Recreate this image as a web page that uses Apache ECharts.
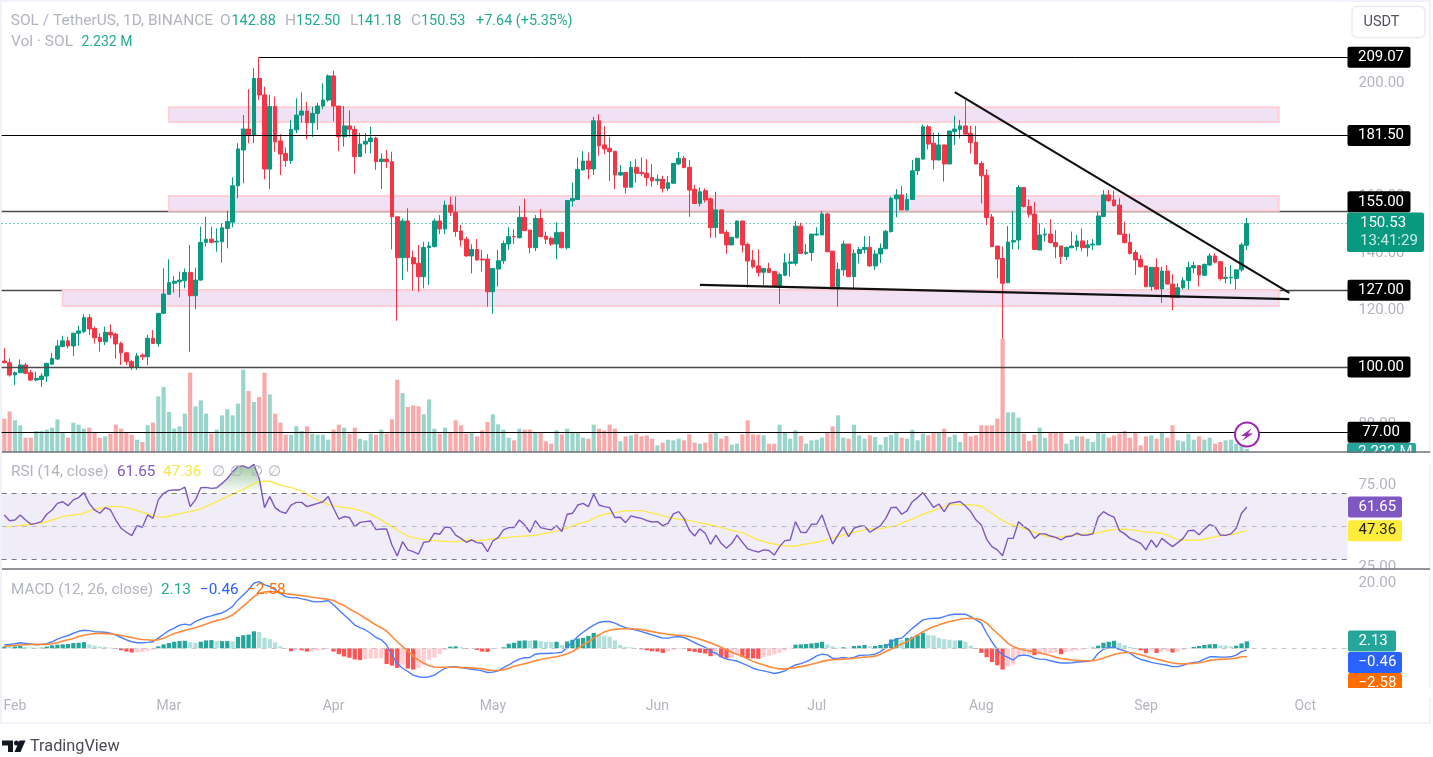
<!DOCTYPE html>
<html><head><meta charset="utf-8">
<script src="https://cdn.jsdelivr.net/npm/echarts@6/dist/echarts.min.js"></script>
<style>html,body{margin:0;padding:0;background:#fff;overflow:hidden}
#frame{position:absolute;left:0;top:0;width:1427px;height:720px;border:2px solid #f0f3fa}
#c{position:absolute;left:0;top:0;width:1433px;height:757px}</style></head>
<body><div id="frame"></div><div id="c"></div>
<script>
// candles, one per day from 30 Jan: open, close, low, high
const candles=[
[102.1,101.5,101.5,106.6],[101.5,97.2,96.6,103],[97.2,98,93.7,98.4],[98,100.7,97.8,102.7],[100.7,97.8,97.4,101.5],[98,95.4,95,99],[95.4,96,95,98.4],[95.6,96.8,93,97.8],[96.8,101.3,94.8,101.5],[101,103,100.7,105],
[102.8,107.4,102.5,109.5],[107.2,109.2,107,111],[109.2,107.4,106.6,110.7],[107.4,111.9,103.9,112],[111.9,112.7,107.5,114.5],[112.5,117.4,111.9,118.6],[117.4,113.4,111.3,118.6],[113.6,110.3,108.3,114.2],[110.4,108.9,105.4,111.9],[108.9,112.2,107.7,114.2],
[112.2,111.3,110.1,115],[111.6,108.1,103,112.1],[108.3,105,100.7,108.9],[105,101.9,100.7,105.4],[101.9,99.9,99,102.5],[99.9,103.9,99,105],[104.2,103.6,102.5,104.8],[103.6,110.1,100.7,111.3],[110.1,108.3,108.1,113],[108.3,118.9,107.2,118.9],
[118.9,125.7,118.7,134.7],[125.6,129.7,125.4,137.9],[129.5,130.2,126.2,132],[130,130.6,124.5,133.6],[130.4,133.3,127.7,134.7],[133.3,125.1,105.4,143],[125.1,130.6,120.3,135],[130.6,143.9,130.4,149.4],[143.9,145,142.4,152.9],[145,143.9,143.5,149.4],
[144,144.3,140.6,148.8],[144.1,149,136.7,150.6],[148.8,151.2,141.8,155],[151,163.8,149.2,166.8],[163.8,176.8,159.4,178.8],[176.4,183.8,164.7,188.7],[183.8,181.7,178.8,197.8],[181.7,201.6,178.8,205.2],[201.6,195.8,194,209.07],[195.8,169.7,166.1,198.7],
[169.7,191.7,162.6,195.8],[191.7,179.3,175.8,195.2],[179.6,175,167.6,182],[175.2,172.7,170.5,177.3],[172.7,183.7,171.5,187],[183.5,188.7,182.3,194.6],[188.7,190.1,186,196.7],[190.1,186,180.2,193.4],[186,189.3,181,191.7],[189.3,191.9,183.5,193],
[191.9,194,190.7,199.9],[194,202.5,193.4,203],[202.5,191.9,186.6,204.3],[191.9,181.1,176,191.9],[181.1,184.9,177.6,191.9],[184.9,183.7,181.1,190.3],[183.7,174.1,168,184.9],[174.1,178.5,173.9,182.5],[178.5,179.5,175.2,182.3],[179.4,180.6,175.2,184.6],
[180.6,172.3,169.4,181.1],[172.3,173.2,162.7,175.2],[173.2,172.3,170,176.4],[172.3,152.9,141.4,175.8],[152.9,138.5,116.3,152.9],[138.5,151.4,130.6,152.3],[151.4,138.5,133.6,155.9],[138.5,136.3,126.9,141],[136.5,131.8,126.5,143],[131.8,142.1,127.7,144.1],
[142.1,142.6,128.9,144.1],[142.4,151.4,142.1,152.3],[151.4,148.6,146.8,153.5],[148.6,157,146.8,158.6],[157,154.5,153.2,160],[154.5,147.7,145.9,160],[147.9,144.7,142.4,150],[145,139.1,138.9,145.9],[139.1,141.4,133,143.2],[141.4,137.7,137.4,145],
[138,137.7,133.6,141.2],[138,126.5,121.2,139.8],[126.5,134.7,118.7,134.7],[134.5,137.4,128.3,141.2],[137.4,143.5,136.3,144.5],[143.3,145.9,141.2,149.2],[145.9,145.8,143.3,148.5],[145.5,152.7,145.3,156.7],[152.7,148,148,159.3],[148.2,142,140,148.2],
[142,152.3,140.8,153.5],[152.3,145.9,145.7,155.6],[146.1,145,143.3,147.7],[145.3,143.3,142.6,145.9],[143.3,147.4,137.9,150.9],[147.4,142,141.8,147.7],[142,158.6,141.4,158.8],[158.5,159.3,156.5,165],[159,169.6,158.8,173.8],[169.4,172.5,169.1,176],
[172.5,169.7,166.1,175.5],[169.7,186.7,167.6,188.1],[186.7,177.9,174.4,189],[178.2,176.8,175,184.9],[177,175.8,165.5,181.1],[176,167.6,162.6,176],[167.6,168.5,167.3,171.1],[168.5,163.3,161.1,168.5],[163.3,170.3,163.3,172.5],[170.3,168.2,164.9,173.2],
[168.5,168.1,167.3,173.8],[168.2,166.7,163.7,173.2],[166.7,165.5,163.5,171.5],[165.6,166.1,164.1,167.8],[166.1,162.9,161.4,167.3],[162.9,164.9,162,167.3],[164.7,171.7,164.4,171.7],[171.5,173.5,171.1,175.7],[173.5,170.2,170,174.3],[170.3,162.3,152.9,172.9],
[162.6,157.6,157.4,164.1],[157.6,161.7,156.5,163.3],[162.1,158.8,157.9,162.9],[159.2,149.1,145.5,159.7],[149.1,155.3,145.5,161.7],[155.3,147.1,147.1,155.5],[147.4,143,139.8,148.2],[143,145.7,142.9,145.7],[145.5,151.4,145.3,151.5],[151.4,143,140.3,151.5],
[143.2,137.3,128,143.8],[137.6,135.3,134.7,141.2],[135.6,133.3,131.8,141.4],[133.4,134.7,128.9,134.7],[134.7,133.3,133.2,136.7],[133.6,128.3,128,133.6],[128.1,132.6,122.2,133.2],[132.3,136.7,132,140],[136.5,137,131.8,140],[136.5,149.6,135.6,151.4],
[149.6,140,139.8,150.8],[140,140.4,139.4,143.3],[140.3,146.8,137.3,146.8],[146.5,146.8,146.2,149.2],[146.5,153.9,146.5,155],[153.9,140.6,140.4,154.3],[140.8,127.5,127.5,140.8],[127.5,134.4,121.2,136.7],[134.2,143.3,132,144.5],[143.3,131.8,131.8,143.3],
[131.8,140,127.7,141.4],[140,141.4,136.5,142.3],[141.4,142.1,140,146.1],[142.1,135.6,135.3,146.1],[135.6,139.8,134.2,141.2],[139.8,141.8,136.6,143.5],[141.6,147.8,141.6,148.2],[147.7,159.4,147.3,160],[159.2,160.6,152.7,162.6],[160.6,155.3,155.3,163.8],
[155.3,159,155,161.2],[159,169.1,158.8,172.9],[169.1,173.5,167.6,173.5],[173.2,184.6,173.1,185.4],[184.6,178.5,176.6,185.2],[178.8,172.9,169.6,182.5],[172.9,178.2,172.7,182.5],[178.2,171.5,165.3,178.2],[171.5,183.1,171.4,183.1],[182.9,183.8,178.2,188.5],
[183.6,184.9,180.5,187],[184.9,182,181.9,194],[182.3,179,175.1,184.9],[179.1,171.5,171.4,184.9],[171.7,167.3,157.6,172.5],[167.5,152.6,150,169.6],[152.8,142.4,142.4,153.9],[142.6,138,131.2,142.6],[138.2,129.5,110,142.4],[129.7,144,129.5,149.6],
[144,144.5,141.4,155],[144.7,163.2,141.4,164],[163.2,156.5,156.2,163.2],[156.5,153.8,152.6,159],[153.9,141.4,141.2,158.2],[141.2,146.5,141.2,150.6],[146.5,146.8,144.1,148.8],[146.8,143.8,143.5,152],[143.8,142.4,138.3,148.2],[142.6,138.9,136.3,142.6],
[138.9,142.1,137.7,142.4],[142,142.6,141.8,147.7],[142.4,144.4,141,146.5],[144.4,142,140.7,148.8],[142,143,138.9,144.7],[143,143.3,141.2,145],[143,153.2,143,154.7],[153,160.6,152.7,162.3],[160.6,158.6,158.2,162.3],[158.8,156.8,156.5,162.1],
[157,146.7,146.7,159.4],[146.8,143.8,143.5,151.2],[143.9,140,139.6,147.1],[140.3,137.7,132.4,141.2],[137.9,135.3,135,139.4],[135.6,128.3,128,135.6],[128.3,135.1,126.9,135.1],[135.1,127.5,127.1,138.3],[127.5,133.8,122.6,135.3],[133.8,129.2,129.2,135.9],
[129.2,124.5,120,132.7],[124.5,127.9,124.5,129.5],[127.9,130.4,127.3,131.6],[130.4,135.1,127.3,137.1],[134.9,135.7,133,137.1],[135.7,132.4,128.3,135.9],[132.3,136.1,132.2,136.5],[135.9,139.1,135.6,140],[139.1,136.9,136.5,140],[137.1,131.1,130.4,137.1],
[131.2,131.6,129.5,135.3],[131.4,131.6,129.2,135.9],[131.2,134.2,127.3,134.2],[134.2,143,133.6,143.8],[142.88,150.53,141.18,152.5]];
const volumes=[
100,122,95,80,43,43,63,63,67,73,98,60,43,88,82,70,73,60,43,47,
55,82,70,60,52,37,30,80,88,167,195,120,70,77,115,238,137,155,115,55,
67,110,128,110,145,247,183,150,165,238,173,115,88,52,52,77,63,77,55,52,
52,37,67,82,73,55,73,40,35,55,52,67,55,98,217,177,135,140,137,113,
158,70,55,73,60,95,80,55,60,47,65,90,113,83,67,43,35,70,67,67,
60,60,32,25,65,53,70,60,60,43,40,82,70,65,82,70,32,47,50,55,
47,50,40,20,28,37,35,40,35,53,28,25,28,55,60,40,48,22,25,53,
95,53,52,50,25,25,82,60,40,65,48,25,35,37,43,60,77,110,43,40,
82,50,40,50,45,22,45,52,57,43,40,67,35,55,50,59,59,70,45,52,
30,59,47,50,80,80,80,100,340,119,119,103,55,33,52,73,43,59,59,59,
25,37,47,47,40,30,57,55,43,50,55,63,43,59,20,47,50,40,59,43,
80,35,32,55,37,47,37,43,25,30,35,37,25,20,10];
const rsi=[
56.9,53.4,53.8,56.9,53.8,51.2,51.8,52.8,57.3,59.9,63.9,64.9,62.5,66,67.4,70.4,63.9,59.9,57.9,61.3,
59.9,53.8,48.8,46.4,44.3,50.4,49.4,56.9,54.8,66,70,71.8,72,72,73.8,61.9,66,73.4,73.6,73,
73.4,76,79,83,86.2,86.6,85.2,87.6,79,61.3,68,61.3,58.9,57.9,62.9,64.5,64.5,61.9,62.9,63.9,
64.9,68,60.9,54.4,55.9,55.3,49.8,52.4,52.8,53.2,48,48.4,48.4,38.7,32,40.7,35.7,34.6,33.2,40.3,
40.7,45.8,45.2,49.6,49.2,44.7,42.7,40.3,41.7,40.1,39.7,34.6,41.1,43.1,47.8,49.2,49.2,53.8,50.8,46.4,
53.4,49.2,48.4,47.8,50.4,46.8,57.3,57.9,62.9,63.9,61.9,69.6,62.9,61.9,61.3,55.3,55.5,52.2,56.3,55.5,
54.8,53.4,52.6,52.8,50.4,51.8,57.5,58.9,54.8,47.8,44.1,48.4,45.8,39.1,44.7,39.7,36.7,39.7,44.7,40.3,
36.3,35.3,34.4,35.7,35.3,32.6,37.7,41.3,41.7,52.8,46.4,46.2,51.2,51.4,56.9,47.8,39.3,44.7,49.8,43.7,
48.8,50,50.2,46.4,48.4,50.4,54.8,61.3,61.5,57.3,59.3,64.9,67.4,70.4,66,61.5,63.5,58.9,63.9,64.5,
65,62.3,58.9,53.8,50.8,42.1,37.7,35.7,32.2,42.7,42.7,52.8,49.8,47.8,42.7,45.4,45.4,44.1,43.3,41.7,
43.7,44.1,45.8,44.5,44.7,45.4,55.5,58.9,56.9,55.5,47.4,45.4,42.7,41.3,39.7,35.7,41.7,37.3,42.7,40.1,
37.7,40.1,42.7,47.4,47.6,44.9,48.2,51,49.8,44.7,44.5,45.4,48.8,57.9,61.65];
const rsiMa=[
49.8,49.8,50,50.4,50.8,51.2,51.6,52,52.8,53.8,54.8,55.9,56.5,56.9,57.3,57.9,59.3,60.3,60.9,61.5,
61.9,62.1,61.9,61.3,60.5,59.5,58.5,57.3,56.3,55.7,55.5,56.1,56.9,57.5,58.3,58.9,59.7,60.5,61.9,63.5,
64.9,66.4,68,69.4,71,72.4,74,75.7,77.1,77.3,77.3,76.1,75,74.2,73.4,72.4,71.4,69.4,67.6,66,
64.5,63.3,62.5,61.9,61.5,61.1,60.3,59.5,58.5,57.3,55.7,53.8,51.8,49.8,47.8,45.8,44.1,43.1,42.5,42.1,
41.5,41.3,41.1,40.9,40.7,40.7,41.1,41.7,41.5,41.1,41.7,41.9,42.3,42.7,43.1,43.3,43.7,43.9,44.1,44.3,
44.5,45.2,45.8,46.4,47.2,47.8,48.8,50.2,51.4,52.2,53.2,54.8,56.3,57.3,57.9,58.3,58.9,59.3,59.5,59.5,
59.5,58.9,57.9,57.3,56.5,55.5,54.8,54.4,53.8,53.4,52.8,52.2,51.4,50.8,50.2,49.2,48.4,47.6,46.8,46.2,
44.7,43.1,41.7,40.7,39.9,39.3,38.7,38.1,37.9,37.9,38.7,39.3,39.7,40.3,41.1,42.1,43.1,43.7,44.7,45.8,
46.4,47.2,47.8,48.4,48.4,48.6,49.2,49.8,50.4,51.8,53.2,54.4,55.9,57.3,58.5,59.5,60.9,61.9,62.9,63.5,
62.9,63.1,63.1,62.7,62.3,59.9,57.9,55.5,53.4,51.8,50.8,49.6,48.6,47.4,46.4,45.2,44.3,43.7,43.3,43.5,
44.1,44.5,44.9,45.2,45.4,45.6,46,47,47.6,48,48.2,48.2,48,47.6,47,46.6,46.4,46.2,45.8,44.7,
43.3,42.1,41.7,41.5,41.5,41.7,42.3,42.9,43.7,44.3,44.7,44.9,45.8,46.8,47.36];
const macd=[
1,1.2,1.4,1.7,1.5,1.3,1.1,1.2,1.4,2,2.8,3.4,3.9,4.6,5.2,5.5,5.4,5.1,5,4.9,
4.6,4,3.3,2.6,2,1.7,1.7,1.8,2,3.1,4.3,5.4,6.2,7.1,7.4,7.1,8.2,8.9,9.5,9.9,
10.4,10.8,11.7,12.8,14.8,16.3,17.9,19.9,20.4,19.4,18.9,17.9,16.8,15.8,15.5,15.5,15.1,14.8,14.3,14.2,
14.3,14.6,13.3,11.7,10.2,8.7,7.1,6.3,5.6,4.6,3.3,2.6,1,-2,-4.6,-6.1,-7.1,-8.2,-8.7,-8.9,
-8.7,-8.2,-7.1,-6.1,-5.7,-5.6,-5.9,-6.1,-6.4,-6.6,-6.9,-7.4,-7.3,-6.9,-5.9,-5.1,-4.1,-3.3,-2.9,-2.8,
-1.8,-1.6,-1.6,-1.5,-1.4,-1.2,0.2,2,3.6,4.9,6.1,7.1,7.9,8.2,8.2,7.7,6.9,6.3,5.9,5.6,
5.1,4.6,4.1,3.6,3.1,3.1,3.4,3.6,3.3,2.6,1.7,1,0.3,-1,-1.5,-2.6,-3.3,-3.6,-3.9,-4.6,
-5.3,-6.1,-6.6,-6.9,-7.3,-7.7,-7.4,-6.9,-5.9,-5.1,-4.7,-4.1,-3.3,-2.3,-1.8,-2,-3.1,-3.1,-2.8,-3.1,
-2.8,-2.2,-2.1,-2,-1.8,-1,0.2,2,2.9,3.1,4.6,6.1,7.4,8.7,9,9.2,9.2,9.7,10.2,10.4,
10.4,10.4,9.7,8.7,7.7,4.6,2,-0.5,-2,-2.8,-3.6,-2.3,-2.1,-2.3,-3,-3.3,-3.4,-3.8,-4.2,-4.5,
-4.5,-4.4,-4.2,-4.1,-4,-3.6,-1.5,-0.3,0.3,0.2,-0.3,-0.8,-1.5,-2.6,-3.4,-3.8,-4.3,-4.6,-4.9,-5.2,
-5.6,-5.6,-5.2,-4.6,-4.3,-4.1,-3.3,-2.6,-2.6,-2.7,-2.7,-2.6,-2.1,-1,-0.46];
const signal=[
0.6,0.8,0.9,1,1.1,1.2,1.2,1.2,1.2,1.4,1.7,2.2,2.6,3,3.6,4,4.3,4.5,4.6,4.5,
4.4,4.2,3.9,3.6,3.3,2.9,2.7,2.6,2.4,2.6,3.1,3.8,4.5,5,5.5,5.9,6.3,6.8,7.4,8,
8.5,8.9,9.4,10.2,11.5,12.9,14.3,15.8,16.8,17.2,17.4,17.2,17,16.7,16.5,16.3,16.1,15.9,15.6,15.4,
15.2,15,14.6,13.8,13.1,12,11.2,10.2,9.2,8.2,7.1,6.3,5.3,3.6,2,0.5,-0.8,-2.3,-3.6,-4.6,
-5.3,-5.7,-5.8,-5.8,-5.8,-5.8,-5.9,-5.9,-6,-6.1,-6.3,-6.6,-6.8,-6.8,-6.6,-6.1,-5.5,-5.1,-4.7,-4.3,
-3.8,-3.4,-3.1,-2.8,-2.6,-2.2,-1.7,-1,0,1,2,3.1,4.1,5,5.5,5.8,5.9,6,6,5.9,
5.7,5.4,5.1,4.8,4.5,4.3,4.1,4,3.9,3.6,3.2,2.8,2.2,1.6,1,0.3,-0.5,-1.2,-1.8,-2.4,
-3.3,-4,-4.6,-5.1,-5.6,-6,-6.3,-6.3,-6.1,-5.9,-5.6,-5.3,-4.9,-4.5,-4,-3.7,-3.5,-3.4,-3.3,-3.2,
-3,-2.9,-2.7,-2.6,-2.4,-1.8,-1,-0.3,0.5,1.3,2,3.1,4.1,5.1,5.9,6.6,7.1,7.7,8.2,8.5,
8.9,9.1,9.2,9,8.7,7.7,6.1,4.6,3.1,1.5,0.5,-0.1,-0.5,-0.8,-1,-1.4,-1.8,-2.2,-2.7,-3.1,
-3.3,-3.6,-3.7,-3.8,-3.8,-3.8,-3.5,-3,-2.4,-1.9,-1.5,-1.3,-1.3,-1.6,-2,-2.4,-2.9,-3.3,-3.7,-4.1,
-4.5,-4.7,-4.8,-4.7,-4.6,-4.4,-4.1,-3.7,-3.5,-3.4,-3.3,-3.2,-3,-2.6,-2.58];
const hist=[
.5,.4,.6,.7,.4,.3,.2,.2,.5,.9,1.1,1.2,1.3,1.6,1.7,1.9,1.2,.8,.5,.4,
.2,-.2,-.6,-1,-1.3,-1.25,-1.1,-.8,-.5,.6,1.2,1.6,2,2.2,2.3,1.8,1.7,2,2.4,2.5,
2.2,2.2,2.2,2.1,3.5,4,4.2,5.2,5,3.2,2.8,1.8,.6,.1,-.9,-.5,-.6,-1,-1,-.7,
-.5,-.2,-1,-1.8,-2.5,-2.9,-3.4,-3.6,-3.3,-3.2,-3.1,-3,-4.8,-5.3,-6,-5,-6.2,-6.5,-6,-5,
-3.5,-2.8,-1.8,-.5,.5,.6,.3,-.2,-.1,-.5,-1,-1.1,-.2,-.1,.3,1.4,1.7,2.3,2.4,2.3,
2.4,2.2,2,1.9,2,1,2.1,2.6,3,3.2,3.8,4.7,4.4,3.9,3.5,2.4,1,.4,.3,0,
-.3,-.6,-.9,-1,-1.4,-1,-.5,-.2,-.1,-.9,-1.1,-1.4,-1.6,-2.4,-2.2,-2.7,-3.1,-2.9,-2.1,-2.7,
-3,-3.1,-3.2,-2.7,-2.3,-1.9,-1.4,-.7,-.1,1.1,1.2,1.3,1.5,1.7,2,1.2,.6,.2,.3,.2,
.7,.8,1,.6,.7,1,1.3,2.7,3,2.5,3.2,3.5,4,4.8,4,3.9,3.2,2.8,2.6,2.4,
2.4,2,.8,-.2,-1.4,-2.7,-4.2,-5.2,-6.5,-5.6,-5,-2.5,-2,-1.9,-2.1,-1.8,-1.6,-1.5,-1.4,-1.8,
-1.2,-.9,-.6,-.4,-.2,.2,.8,1.7,2,2.3,1.6,1,.4,-.1,-.6,-1.5,-.7,-1.4,-1,-.9,
-1.3,-1,-.5,-.1,.4,.7,1,1.2,1.3,.9,.8,.6,.8,1.5,2.13];
const priceTicks=[200,180,160,140,120,100,80];
const rsiTicks=[75,25];
const macdTicks=[20];
const monthLabels={'02':'Feb','03':'Mar','04':'Apr','05':'May','06':'Jun','07':'Jul','08':'Aug','09':'Sep','10':'Oct'};
const levels=[209.07,181.5,155,127,100,77];
const lastPrice=150.53;
const zones=[[191.5,186.3,'03-01'],[160.2,155,'03-01'],[127,121.5,'02-10']];
const zoneEndDate='2024-09-26';
const highLevelStart='2024-03-18';
const falling=[['2024-07-27',196.8],['2024-09-28',126.1]];
const flat=[['2024-06-09',128.9],['2024-09-28',123.9]];

const UP='#089981',DOWN='#f23645',GREY='#b2b5be',FONT='Roboto, "Open Sans", sans-serif';
const dates=[];for(let i=0;i<254;i++){dates.push(new Date(Date.UTC(2024,0,30+i)).toISOString().slice(0,10));}
const band=5.31,left=1.65,gw=254*band;
const grids=[
 {left,width:gw,top:3.48,height:448.72},
 {left,width:gw,top:338.7,height:113.3},
 {left,width:gw,top:453,height:116},
 {left,width:gw,top:570,height:125}];
const hiddenX=i=>({type:'category',gridIndex:i,data:dates,boundaryGap:true,axisLine:{show:false},axisTick:{show:false},axisLabel:{show:false},splitLine:{show:false}});
const yA=(i,min,max,ticks,show=true)=>({type:'value',gridIndex:i,min,max,position:'right',scale:false,
  axisLine:{show:false},axisTick:{show:false},splitLine:{show:false},
  axisLabel:show?{show:true,customValues:ticks,margin:8,color:GREY,fontSize:15,fontFamily:FONT,formatter:v=>v.toFixed(2),showMinLabel:true,showMaxLabel:true}:{show:false}});
const xAxis=[hiddenX(0),hiddenX(1),hiddenX(2),hiddenX(3)];
xAxis[3].axisLabel={show:true,color:GREY,fontSize:14,fontFamily:FONT,margin:4,
  interval:(i,v)=>v.slice(8)==='01'&&monthLabels[v.slice(5,7)]!==undefined,
  formatter:v=>monthLabels[v.slice(5,7)],hideOverlap:false};
const yAxis=[yA(0,70,228,priceTicks),yA(1,0,340,[],false),yA(2,24.12,94.42,rsiTicks),yA(3,-14.28,23.94,macdTicks)];
const line=(x,y,data,color,width,z,extra={})=>Object.assign({type:'line',xAxisIndex:x,yAxisIndex:y,data,showSymbol:false,symbol:'none',silent:true,animation:false,z,lineStyle:{color,width}},extra);
const last=dates[253];
const underZone=v=>v===155||v===127;
const levelStyle=v=>(underZone(v)||v===100)?{color:'#4a4a4a',width:1.4,type:'solid'}:{color:'#000',width:1,type:'solid'};
const levelLines=(list,z)=>({z,silent:true,animation:false,symbol:'none',label:{show:false},data:list.map(v=>v===209.07
  ?[{xAxis:highLevelStart,yAxis:v,lineStyle:levelStyle(v)},{xAxis:last,yAxis:v}]
  :{yAxis:v,lineStyle:levelStyle(v)})});
const zoneSeries={type:'line',xAxisIndex:0,yAxisIndex:0,data:[],silent:true,z:1,markArea:{z:1,silent:true,animation:false,
  itemStyle:{color:'#f0e1f4',borderColor:'#ffd0d6',borderWidth:2},
  data:zones.map(z=>[{xAxis:'2024-'+z[2],yAxis:z[0]},{xAxis:zoneEndDate,yAxis:z[1]}])}};
const series=[
 line(0,0,[],'#000',1,0,{markLine:levelLines(levels.filter(underZone),0)}),
 zoneSeries,
 line(0,0,[],UP,1,2,{markLine:{z:2,silent:true,animation:false,symbol:'none',label:{show:false},data:[{yAxis:lastPrice,lineStyle:{color:UP,width:1,type:[1,3]}}]}}),
 {type:'bar',xAxisIndex:1,yAxisIndex:1,barWidth:'78%',silent:true,animation:false,z:2,
  data:volumes.map((v,i)=>({value:v,itemStyle:{color:candles[i][1]>=candles[i][0]?'#9ad5cc':'#f9a9a9'}}))},
 {type:'candlestick',xAxisIndex:0,yAxisIndex:0,barWidth:'80%',silent:true,animation:false,z:4,
  data:candles,itemStyle:{color:UP,color0:DOWN,borderColor:UP,borderColor0:DOWN,borderWidth:1}},
 line(0,0,[],'#000',1,6,{markLine:levelLines(levels.filter(v=>!underZone(v)),6)}),
 line(0,0,falling,'#111',2.2,7),
 line(0,0,flat,'#111',2.2,7),
 // RSI
 line(2,2,[],'#000',0,1,{markArea:{silent:true,animation:false,itemStyle:{color:'#f0edf9'},data:[[{yAxis:70},{xAxis:last,yAxis:30}]]},
   markLine:{silent:true,animation:false,symbol:'none',label:{show:false},data:[
    {yAxis:70,lineStyle:{color:'#787b86',type:[5,5],width:1}},
    {yAxis:50,lineStyle:{color:'#b9bbc4',type:[5,5],width:1}},
    {yAxis:30,lineStyle:{color:'#787b86',type:[5,5],width:1}}]}}),
 line(2,2,rsi.map(v=>Math.max(v,70)),'transparent',0,2,{areaStyle:{origin:70,color:new echarts.graphic.LinearGradient(0,0,0,1,[{offset:0,color:'rgba(56,142,60,.7)'},{offset:1,color:'rgba(56,142,60,0)'}])}}),
 line(2,2,rsiMa,'#fbe94f',1.4,3),
 line(2,2,rsi,'#7e57c2',1.4,4),
 // MACD
 line(3,3,[],'#000',0,1,{markLine:{silent:true,animation:false,symbol:'none',label:{show:false},data:[{yAxis:0,lineStyle:{color:'#c4c6cd',type:[5,5],width:1}}]}}),
 {type:'bar',xAxisIndex:3,yAxisIndex:3,barWidth:'80%',silent:true,animation:false,z:2,
  data:hist.map((v,i)=>{const p=i>0?hist[i-1]:0;
    const c=v>=0?(v>=p?'#26a69a':'#b2dfdb'):(v<p?'#ff5252':'#ffcdd2'); return {value:v,itemStyle:{color:c}};})},
 line(3,3,macd,'#2962ff',1.4,4,{lineStyle:{color:'#4a7dff',width:1.4}}),
 line(3,3,signal,'#ff6d00',1.4,5,{lineStyle:{color:'#ff8a3c',width:1.6}})
];
const chart=echarts.init(document.getElementById('c'),null,{width:1433,height:757});
chart.setOption({animation:false,backgroundColor:'transparent',grid:grids,xAxis,yAxis,series});

const T=(x,y,text,fill,z=50,extra={})=>({type:'text',x,y,silent:true,z,style:Object.assign({text,fill,fontSize:15,fontFamily:FONT,textVerticalAlign:'middle'},extra)});
const R=(x,y,w,h,fill,z=49,r=2)=>({type:'rect',silent:true,z,shape:{x,y,width:w,height:h,r},style:{fill}});
const g=[];
const VAL='#22ab94';
// header rows
[[10.7,21,'SOL / TetherUS, 1D, BINANCE',GREY,15.5],[220,21,'O',GREY,15.5],[231.5,21,'142.88',VAL,14.4],[285,21,'H',GREY,15.5],[296,21,'152.50',VAL,14.4],[350,21,'L',GREY,15.5],[357,21,'141.18',VAL,14.4],[411,21,'C',GREY,15.5],[421,21,'150.53',VAL,14.4],[476,21,'+7.64 (+5.35%)',VAL,14.4],
 [11,42,'Vol · SOL',GREY,15.5],[81.5,42,'2.232 M',VAL,14]
].forEach(t=>g.push(T(t[0],t[1],t[2],t[3],50,{fontSize:t[4]})));
[[11,472,'RSI (14, close)',GREY],[117,472,'61.65','#7e57c2'],[163,472,'47.36','#f7e64a'],[212,472,'∅',GREY],[230,472,'∅',GREY],[250,472,'∅',GREY],[268,472,'∅',GREY],
 [11,590,'MACD (12, 26, close)',GREY],[161,590,'2.13',VAL],[200,590,'−0.46','#2962ff'],[247,590,'−2.58','#ff6d00']
].forEach(t=>g.push(T(t[0],t[1],t[2],t[3],50,{fontSize:15.3})));
// current price tag
const py=chart.convertToPixel({yAxisIndex:0},lastPrice);
g.push(R(1347,py-11,77,39.5,UP,49));
g.push(T(1360,py,lastPrice.toFixed(2),'#fff',50));
g.push(T(1360,py+18,'13:41:29','#cfe9e4',50));
// level tags; the 155 tag is pushed up by the price tag
const tagShift={155:-9};
levels.forEach(v=>{const y=chart.convertToPixel({yAxisIndex:0},v)+(tagShift[v]||0);
  g.push(R(1347.5,y-10.5,63,21,'#000',51));
  g.push(T(1381,y,v.toFixed(2),'#fff',52,{textAlign:'center'}));});
// volume tag (cut by the pane edge)
g.push(R(1347,443,69,20,'#26a69a',48));
g.push(T(1358,452,'2.232 M','#fff',48.2));
g.push(R(1345,453,88,12,'#fff',48.5,0));
// white masks at pane edges
g.push(R(1345,569.5,88,5.5,'#fff',48.5,0));
// pane separators
[452,569].forEach(y=>g.push({type:'line',silent:true,z:55,shape:{x1:2,y1:y,x2:1430,y2:y},style:{stroke:'#6f7178',lineWidth:y===452?1.6:1.4}}));
// RSI tags
[[61.65,'#7e57c2','#fff'],[47.36,'#ffeb3b','#222']].forEach(a=>{const y=chart.convertToPixel({yAxisIndex:2},a[0]);
  g.push(R(1348,y-10.5,54,21,a[1],51));g.push(T(1358.5,y,a[0].toFixed(2),a[2],52));});
// MACD tags
[[641,'2.13','#26a69a',48],[662.5,'−0.46','#2962ff',54],[683.5,'−2.58','#ff6d00',54]].forEach(a=>{
  g.push(R(1348,a[0]-10.5,a[3],21,a[2],51));g.push(T(1358.5,a[0],a[1],'#fff',52));});
g.push(R(1345,688,88,10,'#fff',53,0));
// currency button
g.push({type:'rect',silent:true,z:50,shape:{x:1352,y:6.5,width:73,height:31,r:5},style:{fill:'#fff',stroke:'#e9ebf2',lineWidth:1.5}});
g.push(T(1363.5,22,'USDT','#50535e',51,{fontSize:14.5}));
// lightning badge
g.push({type:'circle',silent:true,z:60,shape:{cx:1247,cy:434.5,r:12},style:{fill:'#fff',stroke:'#9c27b0',lineWidth:2}});
g.push({type:'polygon',silent:true,z:61,shape:{points:[[1252,428],[1241,436],[1246,436],[1242,441],[1253,433.5],[1248,433.5]]},style:{fill:'#9c27b0'}});
// brand
g.push({type:'polygon',silent:true,z:50,shape:{points:[[2,740.5],[13,740.5],[13,752],[8,752],[8,745.5],[2,745.5]]},style:{fill:'#131722'}});
g.push({type:'circle',silent:true,z:50,shape:{cx:16.5,cy:743,r:2.5},style:{fill:'#131722'}});
g.push({type:'polygon',silent:true,z:50,shape:{points:[[19.5,740.5],[25.5,740.5],[20.5,752],[14.5,752]]},style:{fill:'#131722'}});
g.push(T(30,746.5,'TradingView','#4a4c54',50,{fontSize:16.3}));
chart.setOption({graphic:g});
</script></body></html>
